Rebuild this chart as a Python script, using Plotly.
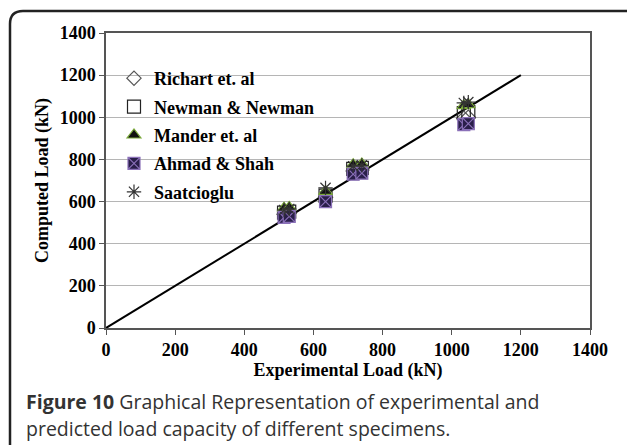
import plotly.graph_objects as go

# Experimental load (kN) for each specimen
experimental = [515, 530, 635, 715, 740, 1035, 1048]
# Computed loads (kN) by model
richart = [540, 545, 620, 745, 750, 995, 1000]
newman = [548, 552, 628, 755, 760, 1020, 1025]
mander = [568, 572, 648, 775, 778, 1055, 1060]
ahmad = [525, 530, 600, 730, 735, 965, 970]
saatcioglu = [560, 565, 665, 768, 772, 1068, 1072]
line_x = [0, 1200]
line_y = [0, 1200]

W, H = 627, 445
L, R, T, B = 106, 590, 33, 328

fig = go.Figure()

fig.add_trace(go.Scatter(x=line_x, y=line_y, mode="lines",
                         line=dict(color="black", width=2), showlegend=False))

series = [
    ("Richart et. al", richart, dict(symbol="diamond-open", size=11, color="#555555", line=dict(width=1.2))),
    ("Newman & Newman", newman, dict(symbol="square-open", size=13, color="#222222", line=dict(width=1.2))),
    ("Mander et. al", mander, dict(symbol="triangle-up", size=12, color="#111111", line=dict(color="#7aa83a", width=1.2))),
    ("Ahmad & Shah", ahmad, dict(symbol="square-x", size=12, color="#2a1f4a", line=dict(color="#8a70b8", width=1.2))),
    ("Saatcioglu", saatcioglu, dict(symbol="asterisk-open", size=12, color="#333333", line=dict(color="#333333", width=1.2))),
]
for i, (name, ys, mk) in enumerate(series):
    fig.add_trace(go.Scatter(x=experimental, y=ys, mode="markers", name=name,
                             marker=mk, legendgroup=f"g{i}"))

font_serif = "Liberation Serif"

def px2paper_x(px):
    return (px - L) / (R - L)

def px2paper_y(py):
    return (B - py) / (B - T)

fig.update_layout(
    width=W, height=H,
    margin=dict(l=L, r=W - R, t=T, b=H - B),
    paper_bgcolor="white", plot_bgcolor="white",
    font=dict(family=font_serif, color="black"),
    showlegend=True,
    legend=dict(x=px2paper_x(114), y=px2paper_y(60), xanchor="left", yanchor="top",
                bgcolor="rgba(0,0,0,0)", borderwidth=0,
                font=dict(family=font_serif, size=18, color="black", weight="bold"),
                traceorder="grouped", tracegroupgap=2, itemwidth=30),
    xaxis=dict(range=[0, 1400], tickvals=[0, 200, 400, 600, 800, 1000, 1200, 1400],
               showgrid=False, zeroline=False,
               showline=True, linecolor="#555555", linewidth=1.5, mirror=True,
               ticks="outside", ticklen=5, tickcolor="#555555",
               tickfont=dict(family=font_serif, size=18, weight="bold"),
               title=dict(text="Experimental Load (kN)", standoff=2,
                          font=dict(family=font_serif, size=18, weight="bold"))),
    yaxis=dict(range=[0, 1400], tickvals=[0, 200, 400, 600, 800, 1000, 1200, 1400],
               showgrid=True, gridcolor="#b5b5b5", gridwidth=1, zeroline=False,
               showline=True, linecolor="#555555", linewidth=1.5, mirror=True,
               ticks="outside", ticklen=5, tickcolor="#555555",
               tickfont=dict(family=font_serif, size=18, weight="bold"),
               title=dict(text="Computed Load (kN)", standoff=6,
                          font=dict(family=font_serif, size=18, weight="bold"))),
)

# outer rounded frame
fig.add_shape(type="path", xref="paper", yref="paper",
              path=(f"M {px2paper_x(10)},{px2paper_y(445)} L {px2paper_x(10)},{px2paper_y(24)} "
                    f"Q {px2paper_x(10)},{px2paper_y(11)} {px2paper_x(23)},{px2paper_y(11)} "
                    f"L {px2paper_x(627)},{px2paper_y(11)}"),
              line=dict(color="#222222", width=2.5))

cap_font = dict(family="Open Sans", size=19.5, color="#333333")
fig.add_annotation(xref="paper", yref="paper", x=px2paper_x(24), y=px2paper_y(401),
                   xanchor="left", yanchor="middle", showarrow=False, align="left",
                   text="<b>Figure 10</b> Graphical Representation of experimental and",
                   font=cap_font)
fig.add_annotation(xref="paper", yref="paper", x=px2paper_x(24), y=px2paper_y(428),
                   xanchor="left", yanchor="middle", showarrow=False, align="left",
                   text="predicted load capacity of different specimens.",
                   font=cap_font)

fig.write_html("out.html")
